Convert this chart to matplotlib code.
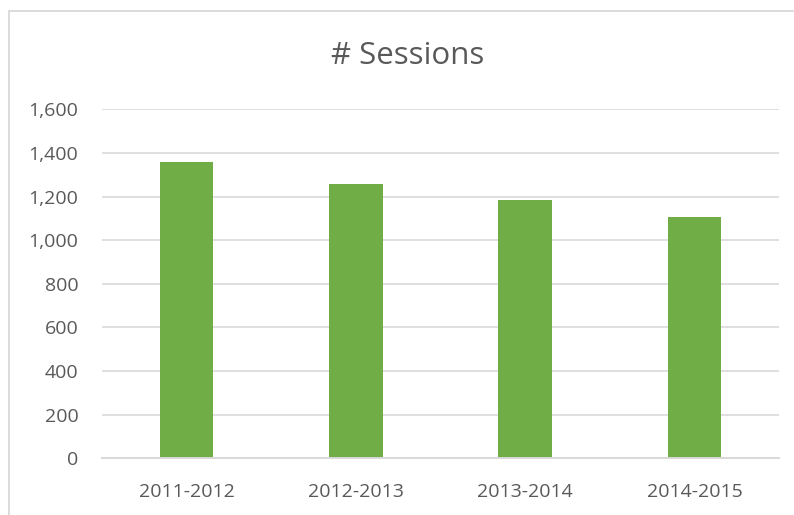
import matplotlib
matplotlib.use("Agg")
import matplotlib.pyplot as plt
from matplotlib.lines import Line2D
from matplotlib.ticker import FuncFormatter

categories = ["2011-2012", "2012-2013", "2013-2014", "2014-2015"]
sessions = [1360, 1258, 1185, 1106]
yticks = [0, 200, 400, 600, 800, 1000, 1200, 1400, 1600]

plt.rcParams['font.family'] = ['Open Sans', 'DejaVu Sans']
text_color = "#595959"
grid_color = "#D9D9D9"
bar_color = "#70AD47"

fig = plt.figure(figsize=(7.94, 5.15), dpi=100)
ax = fig.add_axes([102/794, 1 - 458.3/515, (779-102)/794, (458.3-109.3)/515])

x = range(len(categories))
ax.bar(x, sessions, width=0.315, color=bar_color, zorder=3)

ax.set_xlim(-0.5, len(categories) - 0.5)
ax.set_ylim(0, 1600)
ax.set_yticks(yticks)
ax.yaxis.set_major_formatter(FuncFormatter(lambda v, p: f"{int(v):,}"))
ax.set_xticks(list(x))
ax.set_xticklabels(categories)

ax.grid(axis='y', color=grid_color, linewidth=1.2, zorder=0)
for s in ['top', 'right', 'left']:
    ax.spines[s].set_visible(False)
ax.spines['bottom'].set_color(grid_color)
ax.spines['bottom'].set_linewidth(1.4)
ax.spines['bottom'].set_zorder(4)

ax.tick_params(axis='both', length=0, labelsize=14, colors=text_color)
ax.tick_params(axis='y', pad=17)
ax.tick_params(axis='x', pad=18)

fig.text(408/794, 1 - 56/515, "# Sessions", ha='center', va='center',
         fontsize=22.5, color=text_color)

# chart border (left & top visible)
fig.add_artist(Line2D([8.5/794, 8.5/794], [0, 1 - 11/515], transform=fig.transFigure,
                      color=grid_color, linewidth=1.3))
fig.add_artist(Line2D([8.5/794, 1], [1 - 11/515, 1 - 11/515], transform=fig.transFigure,
                      color=grid_color, linewidth=1.3))

fig.savefig("out.png", dpi=100)
